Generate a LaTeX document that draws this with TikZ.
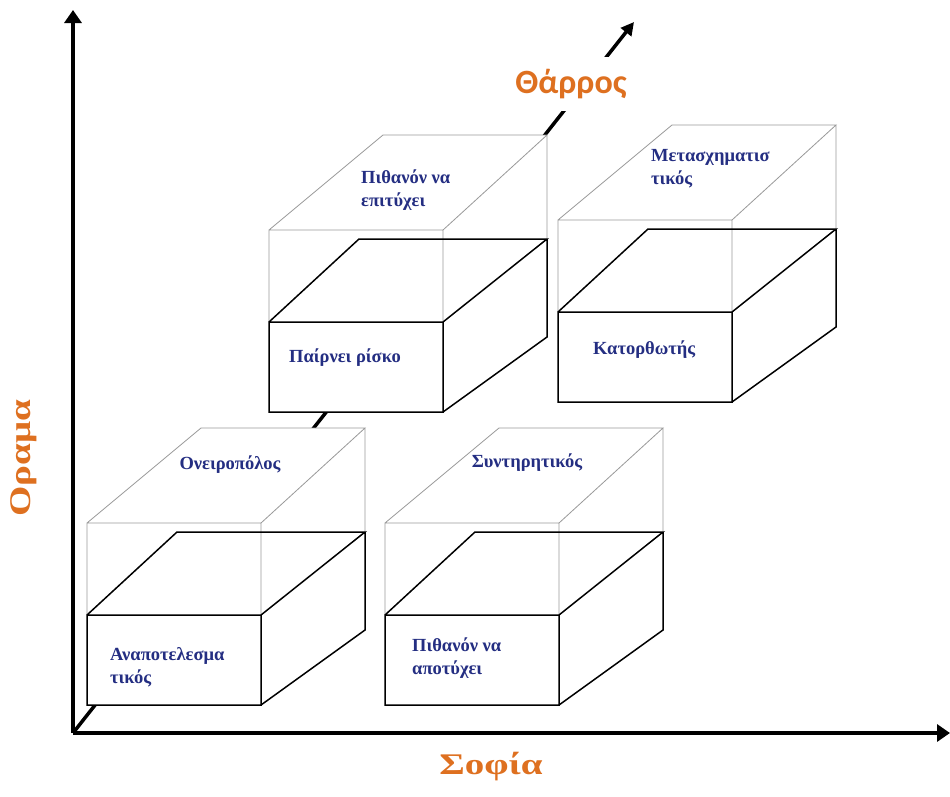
\documentclass[tikz,border=0pt]{standalone}
\usepackage{fontspec}
\setmainfont{Liberation Serif}
\newfontfamily\labelsans{Carlito}
\usetikzlibrary{arrows.meta}

\definecolor{boxblue}{RGB}{36,46,130}
\definecolor{axisorange}{RGB}{222,112,32}

\tikzset{
  axisline/.style={line width=4pt,-{Triangle[width=17pt,length=13pt]}},
  depthline/.style={line width=3.5pt,-{Triangle[width=13pt,length=13pt]}},
  ghostedge/.style={draw=gray!80,line width=0.8pt},
  boxedge/.style={draw=black,line width=1.5pt},
  boxtext/.style={text=boxblue,font=\fontsize{18.5}{23}\selectfont\bfseries,align=left,inner sep=0pt},
  axislabel/.style={text=axisorange,font=\fontsize{30}{36}\selectfont\bfseries}
}

% solid lower block with a see-through upper block, from its front bottom-left corner
\newcommand{\cubebox}[2]{%
  \begin{scope}[shift={(#1,#2)}]
    \fill[white] (0,0) -- (0,-182) -- (114,-277) -- (278,-277) -- (278,-75) -- (174,0) -- cycle;
    \draw[ghostedge] (0,-90) -- (0,-182) -- (174,-182) -- (174,-90)
      (0,-182) -- (114,-277) -- (278,-277) -- (174,-182)
      (278,-277) -- (278,-173);
    \draw[boxedge] (0,0) rectangle (174,-90)
      (0,-90) -- (90,-173) -- (278,-173) -- (174,-90)
      (174,0) -- (278,-75) -- (278,-173);
  \end{scope}}

\begin{document}
\begin{tikzpicture}[x=1pt,y=-1pt]
    \useasboundingbox (0,0) rectangle (950,796);

    \coordinate (O) at (73,733);
    \coordinate (Ytip) at (73,10);
    \coordinate (Xtip) at (950,733);
    \coordinate (Dtip) at (634,22);

    % depth axis, hidden behind the blocks
    \draw[depthline] (O) -- (Dtip);

    \cubebox{87}{705}
    \cubebox{385}{705}
    \cubebox{269}{412}
    \cubebox{558}{402}

    \node[axislabel,font=\labelsans\fontsize{34}{40}\selectfont\bfseries,fill=white,
      minimum width=132pt,minimum height=54pt] (courage) at (571,84) {Θάρρος};
    \node[axislabel] (wisdom) at (491,767) {\scalebox{1.3}[1]{Σοφία}};
    \node[axislabel,rotate=90] (vision) at (24,458) {\scalebox{1.3}[1]{Οραμα}};

    \draw[axisline] (O) -- (Ytip);
    \draw[axisline] (O) -- (Xtip);

    \node[boxtext] (dreamer) at (230,465) {Ονειροπόλος};
    \node[boxtext,anchor=west] (ineffective) at (110,667) {Αναποτελεσμα\\τικός};
    \node[boxtext] (conservative) at (527,463) {Συντηρητικός};
    \node[boxtext,anchor=west] (mayfail) at (412,658) {Πιθανόν να\\αποτύχει};
    \node[boxtext,anchor=west] (maysucceed) at (361,190) {Πιθανόν να\\επιτύχει};
    \node[boxtext,anchor=west] (risktaker) at (289,358) {Παίρνει ρίσκο};
    \node[boxtext,anchor=west] (transform) at (651,169) {Μετασχηματισ\\τικός};
    \node[boxtext,anchor=west] (achiever) at (593,350) {Κατορθωτής};
\end{tikzpicture}
\end{document}
